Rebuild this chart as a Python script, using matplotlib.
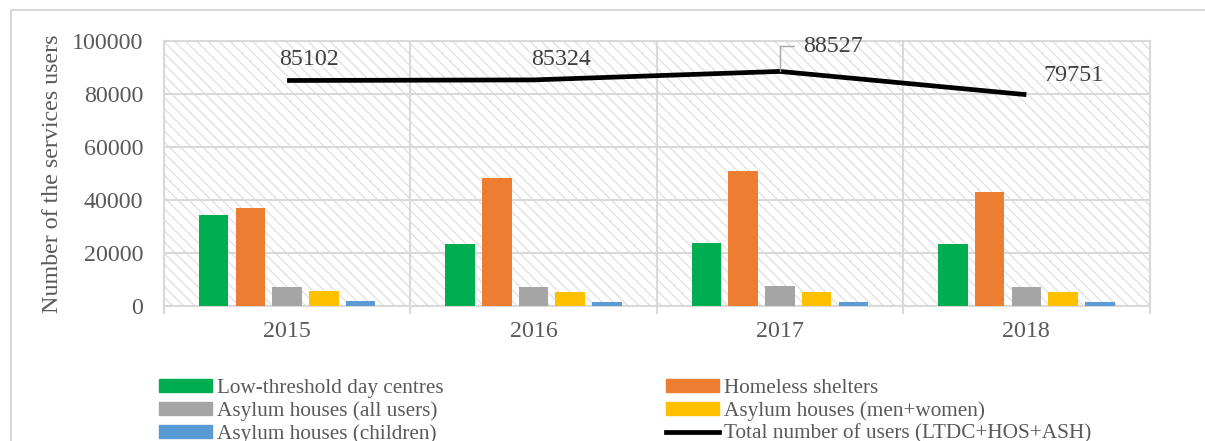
"""Service users by type of homeless service, 2015-2018"""
import numpy as np
import matplotlib.pyplot as plt
from matplotlib.patches import Rectangle, Patch
from matplotlib.lines import Line2D

plt.rcParams['font.family'] = ['Liberation Serif', 'DejaVu Serif']
plt.rcParams['hatch.linewidth'] = 1.0

years = ['2015', '2016', '2017', '2018']

day_centres = [34300, 23400, 23800, 23400]
shelters = [36900, 48300, 50900, 42900]
asylum_all = [7300, 7200, 7400, 7100]
asylum_adults = [5500, 5300, 5400, 5300]
asylum_children = [1900, 1650, 1650, 1650]
total_users = [85102, 85324, 88527, 79751]

series_names = ['Low-threshold day centres', 'Homeless shelters',
                'Asylum houses (all users)', 'Asylum houses (men+women)',
                'Asylum houses (children)']
series_colors = ['#00AD50', '#ED7D31', '#A5A5A5', '#FFC000', '#5B9BD5']
total_name = 'Total number of users (LTDC+HOS+ASH)'

text_col = '#595959'
grid_col = '#D9D9D9'
fs = 17.3

fig = plt.figure(figsize=(12.05, 4.41), dpi=100)
ax = fig.add_axes([0.136, 0.306, 0.818, 0.601])

# outer chart border
fig.patches.append(Rectangle((11 / 1205, -0.1), 1.2, 1 - 10 / 441 + 0.1,
                             transform=fig.transFigure, fill=False,
                             edgecolor=grid_col, linewidth=1.5, zorder=0))

# hatched plot-area background
ax.add_patch(Rectangle((0, 0), 1, 1, transform=ax.transAxes, facecolor='white',
                       edgecolor='#E2E2E2', hatch='\\\\\\', linewidth=0, zorder=0))

x = np.arange(len(years))
width = 0.12
step = 0.149
all_series = [day_centres, shelters, asylum_all, asylum_adults, asylum_children]
for i, (vals, col) in enumerate(zip(all_series, series_colors)):
    ax.bar(x + (i - 2) * step, vals, width, color=col, zorder=3)

ax.plot(x, total_users, color='black', linewidth=3.4, solid_capstyle='butt', zorder=4)

# value labels on the total line
offsets = [(16, 15), (20, 15), (38, 18), (34, 14)]
for i, (v, off) in enumerate(zip(total_users, offsets)):
    if i == 2:
        ax.annotate(f'{v}', (x[i], v), xytext=off, textcoords='offset points',
                    ha='center', va='center', fontsize=fs, color='#404040',
                    arrowprops=dict(arrowstyle='-', color='#A6A6A6', lw=1,
                                    shrinkA=4, shrinkB=0, relpos=(0, 0.5),
                                    connectionstyle='angle,angleA=0,angleB=90,rad=0'),
                    zorder=5)
    else:
        ax.annotate(f'{v}', (x[i], v), xytext=off, textcoords='offset points',
                    ha='center', va='center', fontsize=fs, color='#404040', zorder=5)

ax.set_xlim(-0.5, 3.5)
ax.set_ylim(0, 100000)
ax.set_yticks(np.arange(0, 100001, 20000))
ax.set_xticks(x)
ax.set_xticklabels(years)
ax.set_xticks(np.arange(-0.5, 3.6, 1), minor=True)
ax.tick_params(axis='both', which='major', length=0, labelsize=fs, labelcolor=text_col)
ax.tick_params(axis='x', which='major', pad=11)
ax.tick_params(axis='y', which='major', pad=15)
ax.tick_params(axis='x', which='minor', length=6, color=grid_col, width=1.5)
ax.grid(True, axis='y', which='major', color=grid_col, linewidth=1.5, zorder=1)
ax.grid(True, axis='x', which='minor', color=grid_col, linewidth=1.5, zorder=1)
ax.set_axisbelow(True)
for s in ax.spines.values():
    s.set_color(grid_col)
    s.set_linewidth(1.5)

ax.set_ylabel('Number of the services users', fontsize=fs, color=text_col, labelpad=6)

# legend filled column by column
handles = [Patch(color=c) for c in series_colors]
total_handle = Line2D([], [], color='black', linewidth=3.4)
order = [handles[0], handles[2], handles[4], handles[1], handles[3], total_handle]
labels = [series_names[0], series_names[2], series_names[4],
          series_names[1], series_names[3], total_name]
fig.legend(order, labels, ncol=2, loc='upper left', bbox_to_anchor=(0.132, 0.141),
           frameon=False, fontsize=15.3, labelcolor=text_col, handlelength=2.5,
           handleheight=0.61, handletextpad=0.24, columnspacing=10.45,
           labelspacing=0.15, borderaxespad=0, borderpad=0)

plt.savefig('out.png', dpi=100)
